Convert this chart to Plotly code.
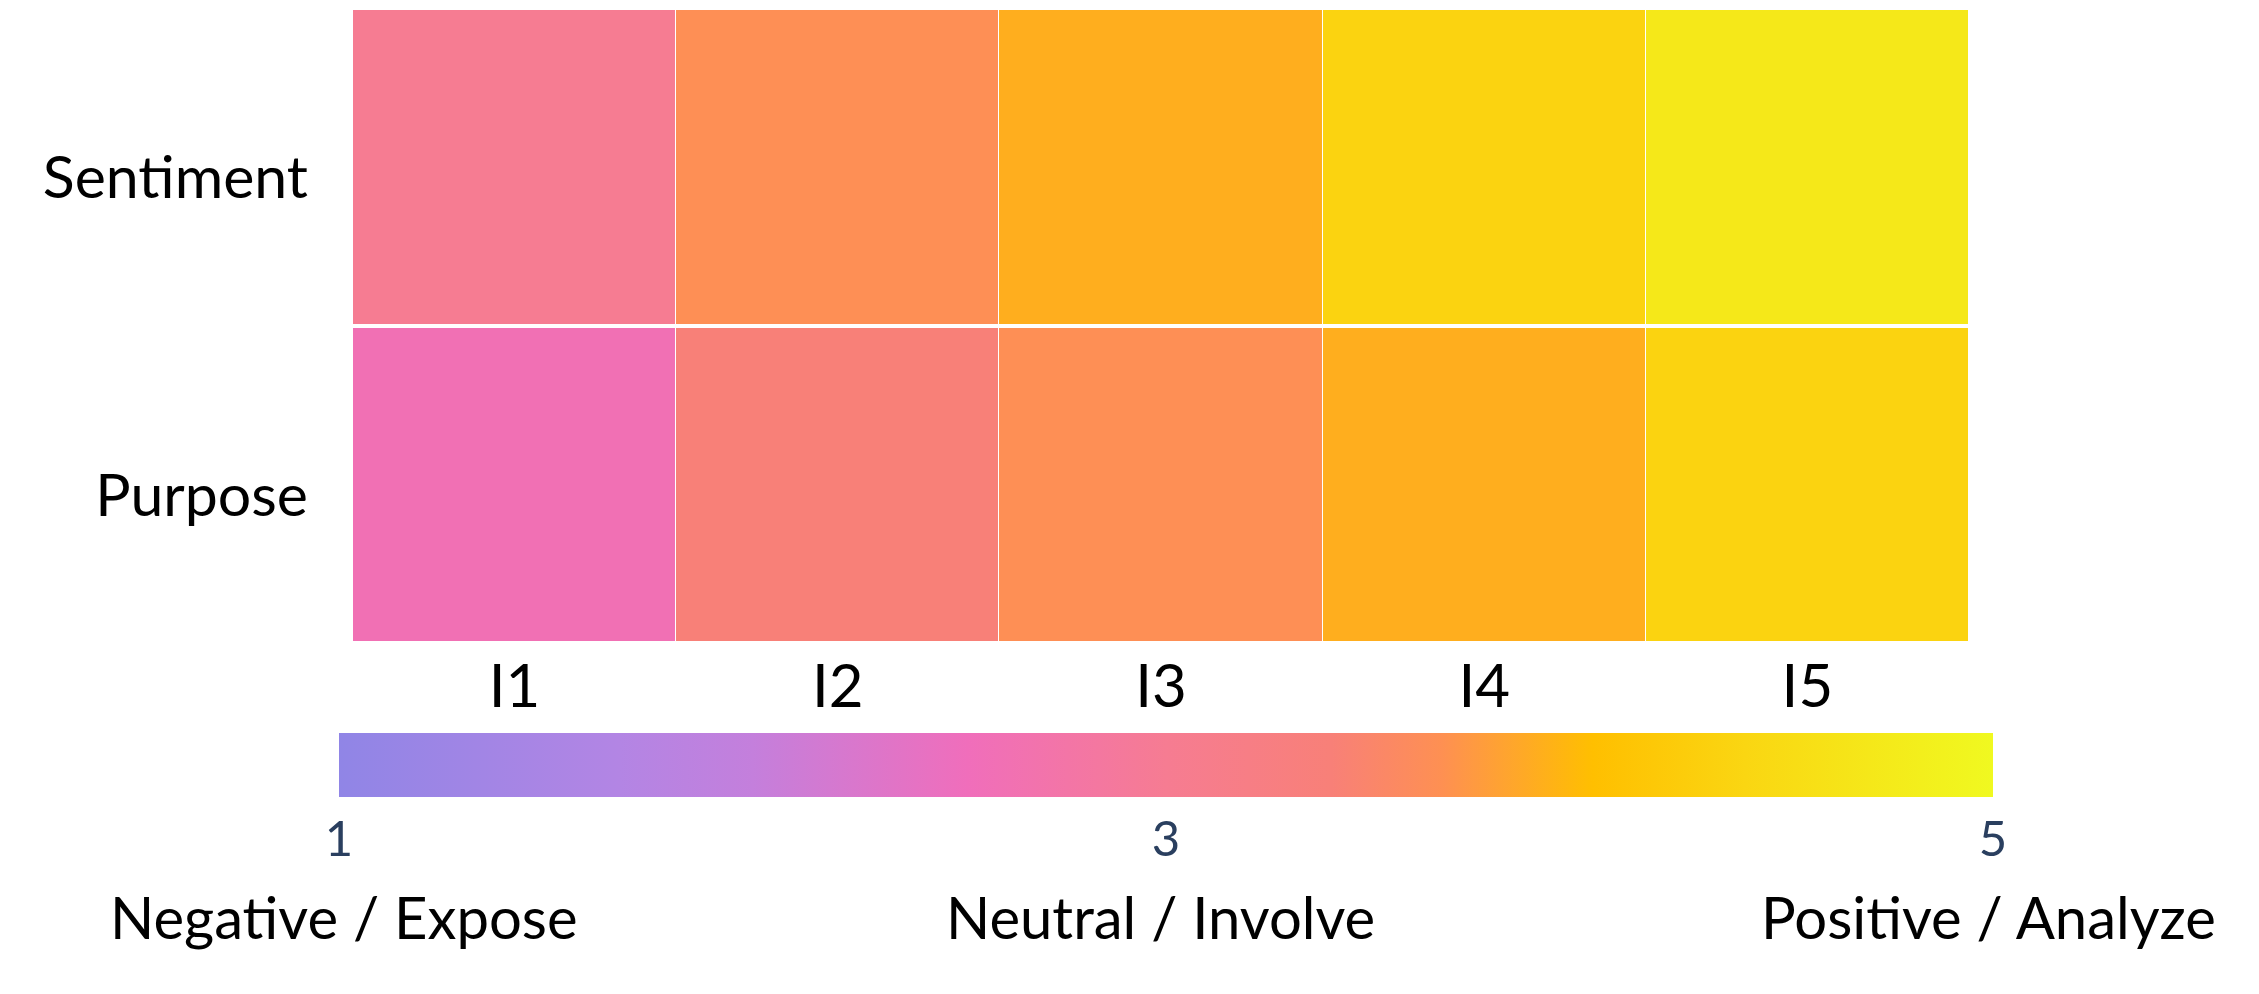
import plotly.graph_objects as go

# dados
indicadores = ["I1", "I2", "I3", "I4", "I5"]
dimensoes = ["Purpose", "Sentiment"]
purpose = [2.6, 3.4, 3.65, 3.9, 4.35]
sentiment = [3.0, 3.65, 3.9, 4.35, 4.7]

escala_ticks = [1, 3, 5]
escala_rotulos = ["Negative / Expose", "Neutral / Involve", "Positive / Analyze"]

escala_cores = [
    [0.0, "#9085e6"],
    [0.17, "#b385e4"],
    [0.25, "#c47fdc"],
    [0.38, "#f06ebb"],
    [0.5, "#f67c92"],
    [0.6, "#f88078"],
    [0.667, "#fe9052"],
    [0.758, "#ffbf00"],
    [0.85, "#fad612"],
    [1.0, "#f0f920"],
]

FONTE = "Lato"

fig = go.Figure(
    go.Heatmap(
        z=[purpose, sentiment],
        x=indicadores,
        y=dimensoes,
        zmin=1,
        zmax=5,
        colorscale=escala_cores,
        xgap=1,
        ygap=4,
        colorbar=dict(
            orientation="h",
            x=0.5031,
            xanchor="center",
            y=-0.1417,
            yanchor="top",
            len=1.0235,
            lenmode="fraction",
            thickness=64,
            thicknessmode="pixels",
            xpad=0,
            ypad=0,
            outlinewidth=0,
            ticks="",
            ticklen=0,
            tickvals=escala_ticks,
            ticktext=[str(v) for v in escala_ticks],
            tickfont=dict(family=FONTE, size=49, color="#2a3f5f"),
        ),
        hovertemplate="%{y} %{x}: %{z}<extra></extra>",
    )
)

# rótulos da escala abaixo da barra de cores
posicoes = [-0.0056, 0.4994, 1.0118]
for pos, rotulo in zip(posicoes, escala_rotulos):
    fig.add_annotation(
        x=pos,
        y=-0.430,
        xref="paper",
        yref="paper",
        text=rotulo,
        showarrow=False,
        xanchor="center",
        yanchor="middle",
        font=dict(family=FONTE, size=58, color="black"),
    )

fig.update_xaxes(
    showgrid=False,
    zeroline=False,
    automargin=False,
    tickfont=dict(family=FONTE, size=60, color="black"),
    ticklabelstandoff=3,
)
fig.update_yaxes(
    showgrid=False,
    zeroline=False,
    automargin=False,
    tickfont=dict(family=FONTE, size=59, color="black"),
    ticklabelstandoff=44,
    ticklabelshift=11,
)
fig.update_layout(
    width=2259,
    height=994,
    margin=dict(t=0, b=359, l=345, r=298, autoexpand=False),
    plot_bgcolor="white",
    paper_bgcolor="white",
)

fig.write_html("out.html")
